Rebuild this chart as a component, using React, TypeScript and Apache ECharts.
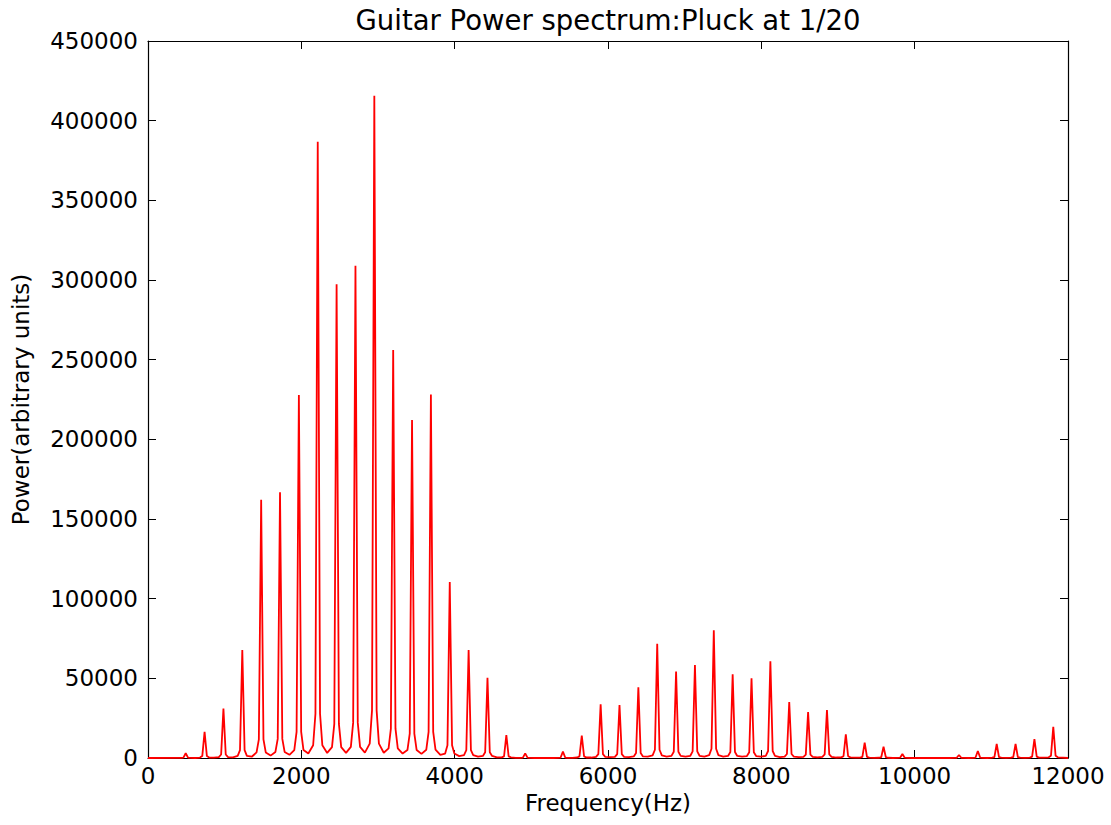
import React, { useEffect, useRef } from "react";
import * as echarts from "echarts";

// Harmonic frequencies (Hz) of the guitar string spectrum
const harmonicFreqs = [
  492, 738, 984, 1230, 1476, 1722, 1968, 2214, 2460, 2706, 2952, 3198, 3444, 3690,
  3936, 4182, 4428, 4674, 4920, 5166, 5412, 5658, 5904, 6150, 6396, 6642, 6888,
  7134, 7380, 7626, 7872, 8118, 8364, 8610, 8856, 9102, 9348, 9594, 9840, 10086,
  10332, 10578, 10824, 11070, 11316, 11562, 11808,
];

// Peak power at each harmonic (arbitrary units)
const peakPower = [
  3000, 16500, 31000, 67800, 162000, 166800, 227800, 386800, 297300, 309000, 415700,
  256100, 212100, 228200, 110500, 67800, 50400, 14400, 2900, 0, 4000, 14000, 33700,
  33300, 44400, 71700, 54200, 58400, 80100, 52500, 50000, 60700, 35100, 28900, 30100,
  14900, 9600, 7100, 2500, 0, 0, 1900, 4400, 8800, 8800, 11900, 19600,
];

// Power on the skirt of each peak, about 30 Hz from its centre
const skirtNearPower = [
  200, 1200, 2200, 4900, 11700, 12000, 16400, 27800, 21400, 22200, 29900, 18400, 15300,
  16400, 8000, 4900, 3600, 1000, 200, 0, 300, 1000, 2400, 2400, 3200, 5200, 3900, 4200,
  5800, 3800, 3600, 4400, 2500, 2100, 2200, 1100, 700, 500, 200, 0, 0, 150, 300, 600,
  600, 900, 1400,
];

// Power on the skirt of each peak, about 60 Hz from its centre
const skirtFarPower = [
  100, 300, 600, 1300, 3500, 3800, 5000, 8000, 6800, 7000, 9000, 6000, 5000, 5200, 2800,
  1800, 1300, 400, 100, 0, 100, 300, 700, 700, 1000, 1600, 1300, 1400, 1800, 1300, 1200,
  1400, 900, 700, 700, 400, 200, 150, 50, 0, 0, 40, 100, 200, 200, 250, 400,
];

// Power at the valley between each pair of consecutive harmonics
const valleyPower = [
  0, 200, 400, 800, 1500, 2000, 2800, 3200, 3200, 3400, 3300, 2800, 2600, 2000, 1200,
  800, 400, 100, 0, 0, 100, 300, 500, 600, 800, 900, 900, 900, 900, 800, 800, 600, 500,
  400, 300, 200, 100, 0, 0, 0, 0, 0, 0, 100, 100, 200,
];

const xTicks = { min: 0, max: 12000, interval: 2000 };
const yTicks = { min: 0, max: 450000, interval: 50000 };

const TITLE = "Guitar Power spectrum:Pluck at 1/20";
const X_NAME = "Frequency(Hz)";
const Y_NAME = "Power(arbitrary units)";

const SKIRT_NEAR = 30;
const SKIRT_FAR = 60;

function buildSpectrum(): [number, number][] {
  const pts: [number, number][] = [[0, 0]];
  for (let i = 0; i < harmonicFreqs.length; i++) {
    const f = harmonicFreqs[i];
    const left = i > 0 ? valleyPower[i - 1] : 0;
    const right = i < valleyPower.length ? valleyPower[i] : 0;
    pts.push([f - SKIRT_FAR, Math.max(skirtFarPower[i], left)]);
    pts.push([f - SKIRT_NEAR, skirtNearPower[i]]);
    pts.push([f, peakPower[i]]);
    pts.push([f + SKIRT_NEAR, skirtNearPower[i]]);
    pts.push([f + SKIRT_FAR, Math.max(skirtFarPower[i], right)]);
    if (i < harmonicFreqs.length - 1) {
      pts.push([(f + harmonicFreqs[i + 1]) / 2, valleyPower[i]]);
    }
  }
  pts.push([12000, 0]);
  return pts;
}

const FONT = "DejaVu Sans";

export default function App() {
  const ref = useRef<HTMLDivElement>(null);
  useEffect(() => {
    if (!ref.current) return;
    const chart = echarts.init(ref.current, undefined, { renderer: "svg" });
    const axisLine = { show: true, onZero: false, lineStyle: { color: "#000", width: 1.2 } };
    const tickStyle = { show: true, inside: true, length: 8, lineStyle: { color: "#000", width: 1 } };
    const labelStyle = { fontFamily: FONT, fontSize: 23, color: "#000" };
    const plain = (v: number) => String(v);
    chart.setOption({
      animation: false,
      backgroundColor: "#fff",
      title: {
        text: TITLE,
        left: 608,
        top: 6,
        textAlign: "center",
        padding: 0,
        textStyle: { fontFamily: FONT, fontSize: 27.5, fontWeight: "normal", color: "#000" },
      },
      grid: {
        left: 148,
        right: 43,
        top: 41,
        bottom: 67,
        containLabel: false,
        outerBoundsMode: "none",
      },
      xAxis: [
        {
          type: "value",
          ...xTicks,
          position: "bottom",
          name: X_NAME,
          nameLocation: "middle",
          nameGap: 29,
          nameTextStyle: labelStyle,
          axisLine,
          axisTick: tickStyle,
          axisLabel: { ...labelStyle, margin: 6, formatter: plain },
          splitLine: { show: false },
        },
        {
          type: "value",
          ...xTicks,
          position: "top",
          axisLine,
          axisTick: tickStyle,
          axisLabel: { show: false },
          splitLine: { show: false },
        },
      ],
      yAxis: [
        {
          type: "value",
          ...yTicks,
          position: "left",
          name: Y_NAME,
          nameLocation: "middle",
          nameGap: 116,
          nameTextStyle: labelStyle,
          axisLine,
          axisTick: tickStyle,
          axisLabel: { ...labelStyle, margin: 10, formatter: plain },
          splitLine: { show: false },
        },
        {
          type: "value",
          ...yTicks,
          position: "right",
          axisLine,
          axisTick: tickStyle,
          axisLabel: { show: false },
          splitLine: { show: false },
        },
      ],
      series: [
        {
          type: "line",
          xAxisIndex: 0,
          yAxisIndex: 0,
          data: buildSpectrum(),
          showSymbol: false,
          symbol: "none",
          lineStyle: { color: "#ff0000", width: 1.8 },
          z: 1,
        },
      ],
    });
    return () => chart.dispose();
  }, []);
  return (
    <div
      ref={ref}
      style={{ position: "absolute", left: 0, top: 0, width: 1111, height: 825 }}
    />
  );
}
